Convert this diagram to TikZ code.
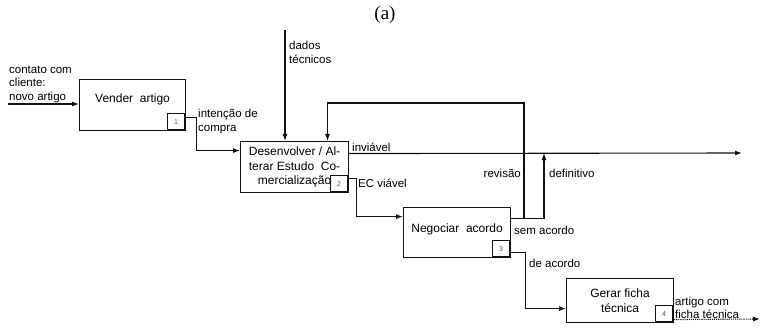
\documentclass[tikz,border=0pt]{standalone}
\usepackage{fontspec}
\setmainfont{Liberation Serif}
\setsansfont{Liberation Sans}
\usetikzlibrary{arrows.meta,calc}
\definecolor{ink}{HTML}{111111}

\begin{document}
\begin{tikzpicture}[x=1pt,y=-1pt,
    fn/.style={draw=ink,line width=1.1pt,anchor=north west,inner sep=1pt,
      font=\sffamily\fontsize{12}{14.5}\selectfont},
    numbox/.style={draw=ink,line width=1pt,anchor=south east,minimum width=17pt,
      minimum height=16pt,inner sep=0pt,text=ink!70,font=\sffamily\scriptsize},
    flow/.style={ink,line width=1.1pt,-{Latex[length=7pt,width=5pt]}},
    lbl/.style={inner sep=1pt,align=left,font=\sffamily\fontsize{11.5}{13.5}\selectfont}]
  \useasboundingbox (0,0) rectangle (764,329);
  \node[font=\fontsize{19}{20}\selectfont] (title) at (385,15) {(a)};

  % the four activity boxes, pixel positions of the scan
  \node[fn,minimum width=106pt,minimum height=51pt,text depth=13pt] (vend) at (79,79) {Vender\ \ artigo};
  \node[fn,minimum width=108pt,minimum height=51pt,align=center] (dev) at (240,141)
    {Desenvolver / Al-\\terar Estudo\ \ Co-\\mercialização};
  \node[fn,minimum width=107pt,minimum height=50pt,text depth=8pt] (neg) at (403,207) {Negociar\ \ acordo};
  \node[fn,minimum width=107pt,minimum height=44pt,align=center] (ger) at (566,278) {Gerar ficha\\técnica};
  \node[numbox] (n1) at ([shift={(-1,-1)}]vend.south east) {1};
  \node[numbox] (n2) at ([shift={(-1,-1)}]dev.south east) {2};
  \node[numbox] (n3) at ([shift={(-1,-1)}]neg.south east) {3};
  \node[numbox] (n4) at ([shift={(-1,-1)}]ger.south east) {4};

  % free ends and junctions
  \coordinate (in1) at (8,104);
  \coordinate (dd) at (285,30);
  \coordinate (inv) at (742,153);
  \coordinate (dfx) at (544,153);
  \coordinate (rvx) at (524,103);
  \coordinate (semac) at ([yshift=14pt]neg.east);
  \coordinate (out) at (760,319);

  % connectors
  \draw[flow] (in1) -- (in1 -| vend.west);
  \draw[flow] ([yshift=-12.5pt]vend.east) -- ++(10,0) |- ([yshift=16.5pt]dev.west);
  \draw[flow] (dd) -- (dd |- dev.north);
  \draw[flow] ([yshift=13.5pt]dev.east) -- (inv);
  \draw[flow] ([yshift=-11.5pt]dev.east) -- ++(7,0) |- ([yshift=16pt]neg.west);
  \draw[ink,line width=1.1pt] (semac) -- (semac -| rvx);
  \draw[flow] (semac -| rvx) -| (dfx);
  \draw[flow] (semac -| rvx) -- (rvx) -| ([xshift=33pt]dev.north);
  \draw[flow] ([yshift=-20pt]neg.east) -- ++(14,0) |- ([yshift=-8pt]ger.west);
  \draw[flow,densely dotted] ([yshift=-19pt]ger.east) -- (out);

  % labels
  \node[lbl,anchor=south west] (l-in) at (in1) {contato com\\cliente:\\novo artigo};
  \node[lbl,anchor=north west] (l-int) at (197,108) {intenção de\\compra};
  \node[lbl,anchor=north west] (l-dd) at (288,40) {dados\\técnicos};
  \node[lbl,anchor=south west] (l-inv) at (351,153) {inviável};
  \node[lbl,anchor=north west] (l-ec) at (357,178) {EC viável};
  \node[lbl,anchor=east] (l-rev) at (522,173) {revisão};
  \node[lbl,anchor=west] (l-def) at (548,173) {definitivo};
  \node[lbl,anchor=west] (l-sem) at (513,230) {sem acordo};
  \node[lbl,anchor=west] (l-de) at (528,263) {de acordo};
  \node[lbl,anchor=south west] (l-out) at (674,320) {artigo com\\ficha técnica};
\end{tikzpicture}
\end{document}
